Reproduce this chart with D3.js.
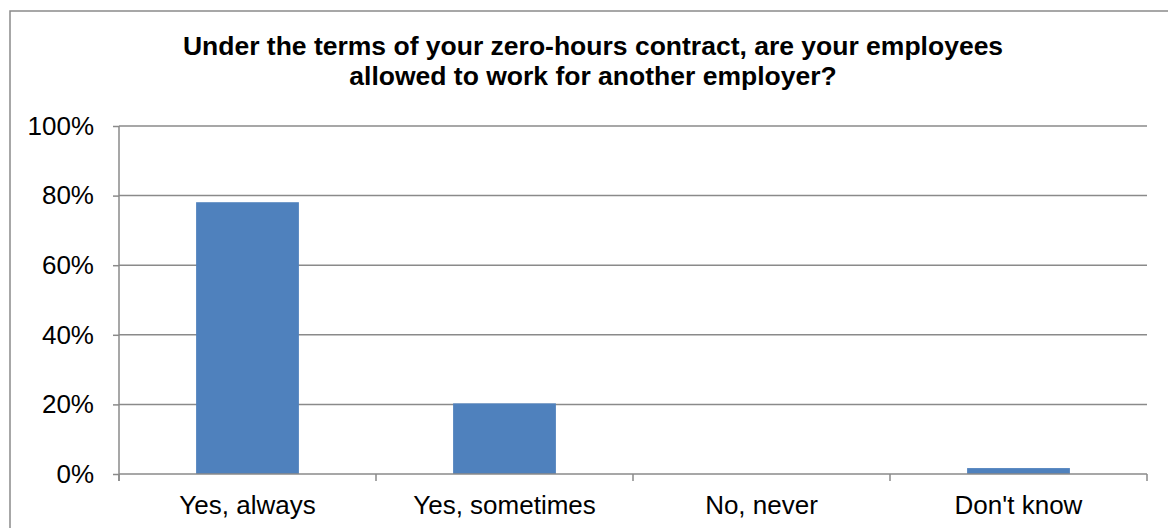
<!DOCTYPE html>
<html>
<head>
<meta charset="utf-8">
<script src="https://cdn.jsdelivr.net/npm/d3@7"></script>
<style>
  html, body { margin: 0; padding: 0; background: #fff; }
  svg { display: block; font-family: "Liberation Sans", Arial, sans-serif; }
</style>
</head>
<body>
<svg id="chart" width="1168" height="528"></svg>
<script>
// Survey answers and the share of employers giving each one
const categories = ["Yes, always", "Yes, sometimes", "No, never", "Don't know"];
const shares = [0.781, 0.203, 0, 0.017];
const yTicks = [0, 0.2, 0.4, 0.6, 0.8, 1.0];
const titleLines = [
  "Under the terms of your zero-hours contract, are your employees",
  "allowed to work for another employer?"
];

const svg = d3.select("#chart");
const plot = { left: 119, right: 1147, top: 126, bottom: 474 };
const gridColor = "#8a8a8a";
const barColor = "#4f81bd";

// Chart frame
svg.append("rect")
  .attr("x", 10).attr("y", 11)
  .attr("width", 1166).attr("height", 530)
  .attr("fill", "#fff")
  .attr("stroke", gridColor).attr("stroke-width", 1.5);

// Title
const titleX = 593;
svg.append("g").selectAll("text")
  .data(titleLines)
  .join("text")
  .attr("x", titleX)
  .attr("y", (d, i) => 54.5 + i * 30)
  .attr("text-anchor", "middle")
  .attr("font-size", 26.5)
  .attr("font-weight", "bold")
  .attr("fill", "#000")
  .text(d => d);

const x = d3.scaleBand()
  .domain(categories)
  .range([plot.left, plot.right])
  .paddingInner(0.6)
  .paddingOuter(0.3);

const y = d3.scaleLinear()
  .domain([0, 1])
  .range([plot.bottom, plot.top]);

// Horizontal gridlines
svg.append("g").selectAll("line")
  .data(yTicks.filter(t => t > 0))
  .join("line")
  .attr("x1", plot.left).attr("x2", plot.right)
  .attr("y1", d => y(d)).attr("y2", d => y(d))
  .attr("stroke", gridColor).attr("stroke-width", 1.5);

// Value axis
const yAxis = svg.append("g")
  .attr("transform", `translate(${plot.left},0)`)
  .call(d3.axisLeft(y).tickValues(yTicks).tickFormat(d3.format(".0%")).tickSize(6).tickPadding(19));
yAxis.select(".domain").remove();
yAxis.selectAll(".tick line").attr("stroke", gridColor).attr("stroke-width", 1.5);
yAxis.selectAll(".tick text")
  .attr("font-size", 26).attr("fill", "#000")
  .attr("font-family", "'Liberation Sans', Arial, sans-serif");
svg.append("line")
  .attr("x1", plot.left).attr("x2", plot.left)
  .attr("y1", plot.top).attr("y2", plot.bottom + 7)
  .attr("stroke", gridColor).attr("stroke-width", 1.5);

// Bars
svg.append("g").selectAll("rect")
  .data(categories.map((c, i) => ({ c, v: shares[i] })))
  .join("rect")
  .attr("x", d => x(d.c))
  .attr("width", x.bandwidth())
  .attr("y", d => y(d.v))
  .attr("height", d => y(0) - y(d.v))
  .attr("fill", barColor);

// Category axis with ticks at band boundaries
const boundaries = categories.map(c => x(c) - x.step() * x.paddingInner() / 2).concat([plot.right]);
boundaries[0] = plot.left;
svg.append("line")
  .attr("x1", plot.left).attr("x2", plot.right)
  .attr("y1", plot.bottom).attr("y2", plot.bottom)
  .attr("stroke", gridColor).attr("stroke-width", 1.5);
svg.append("g").selectAll("line")
  .data(boundaries)
  .join("line")
  .attr("x1", d => d).attr("x2", d => d)
  .attr("y1", plot.bottom).attr("y2", plot.bottom + 7)
  .attr("stroke", gridColor).attr("stroke-width", 1.5);
svg.append("g").selectAll("text")
  .data(categories)
  .join("text")
  .attr("x", d => x(d) + x.bandwidth() / 2)
  .attr("y", 514)
  .attr("text-anchor", "middle")
  .attr("font-size", 26)
  .attr("fill", "#000")
  .text(d => d);
</script>
</body>
</html>
